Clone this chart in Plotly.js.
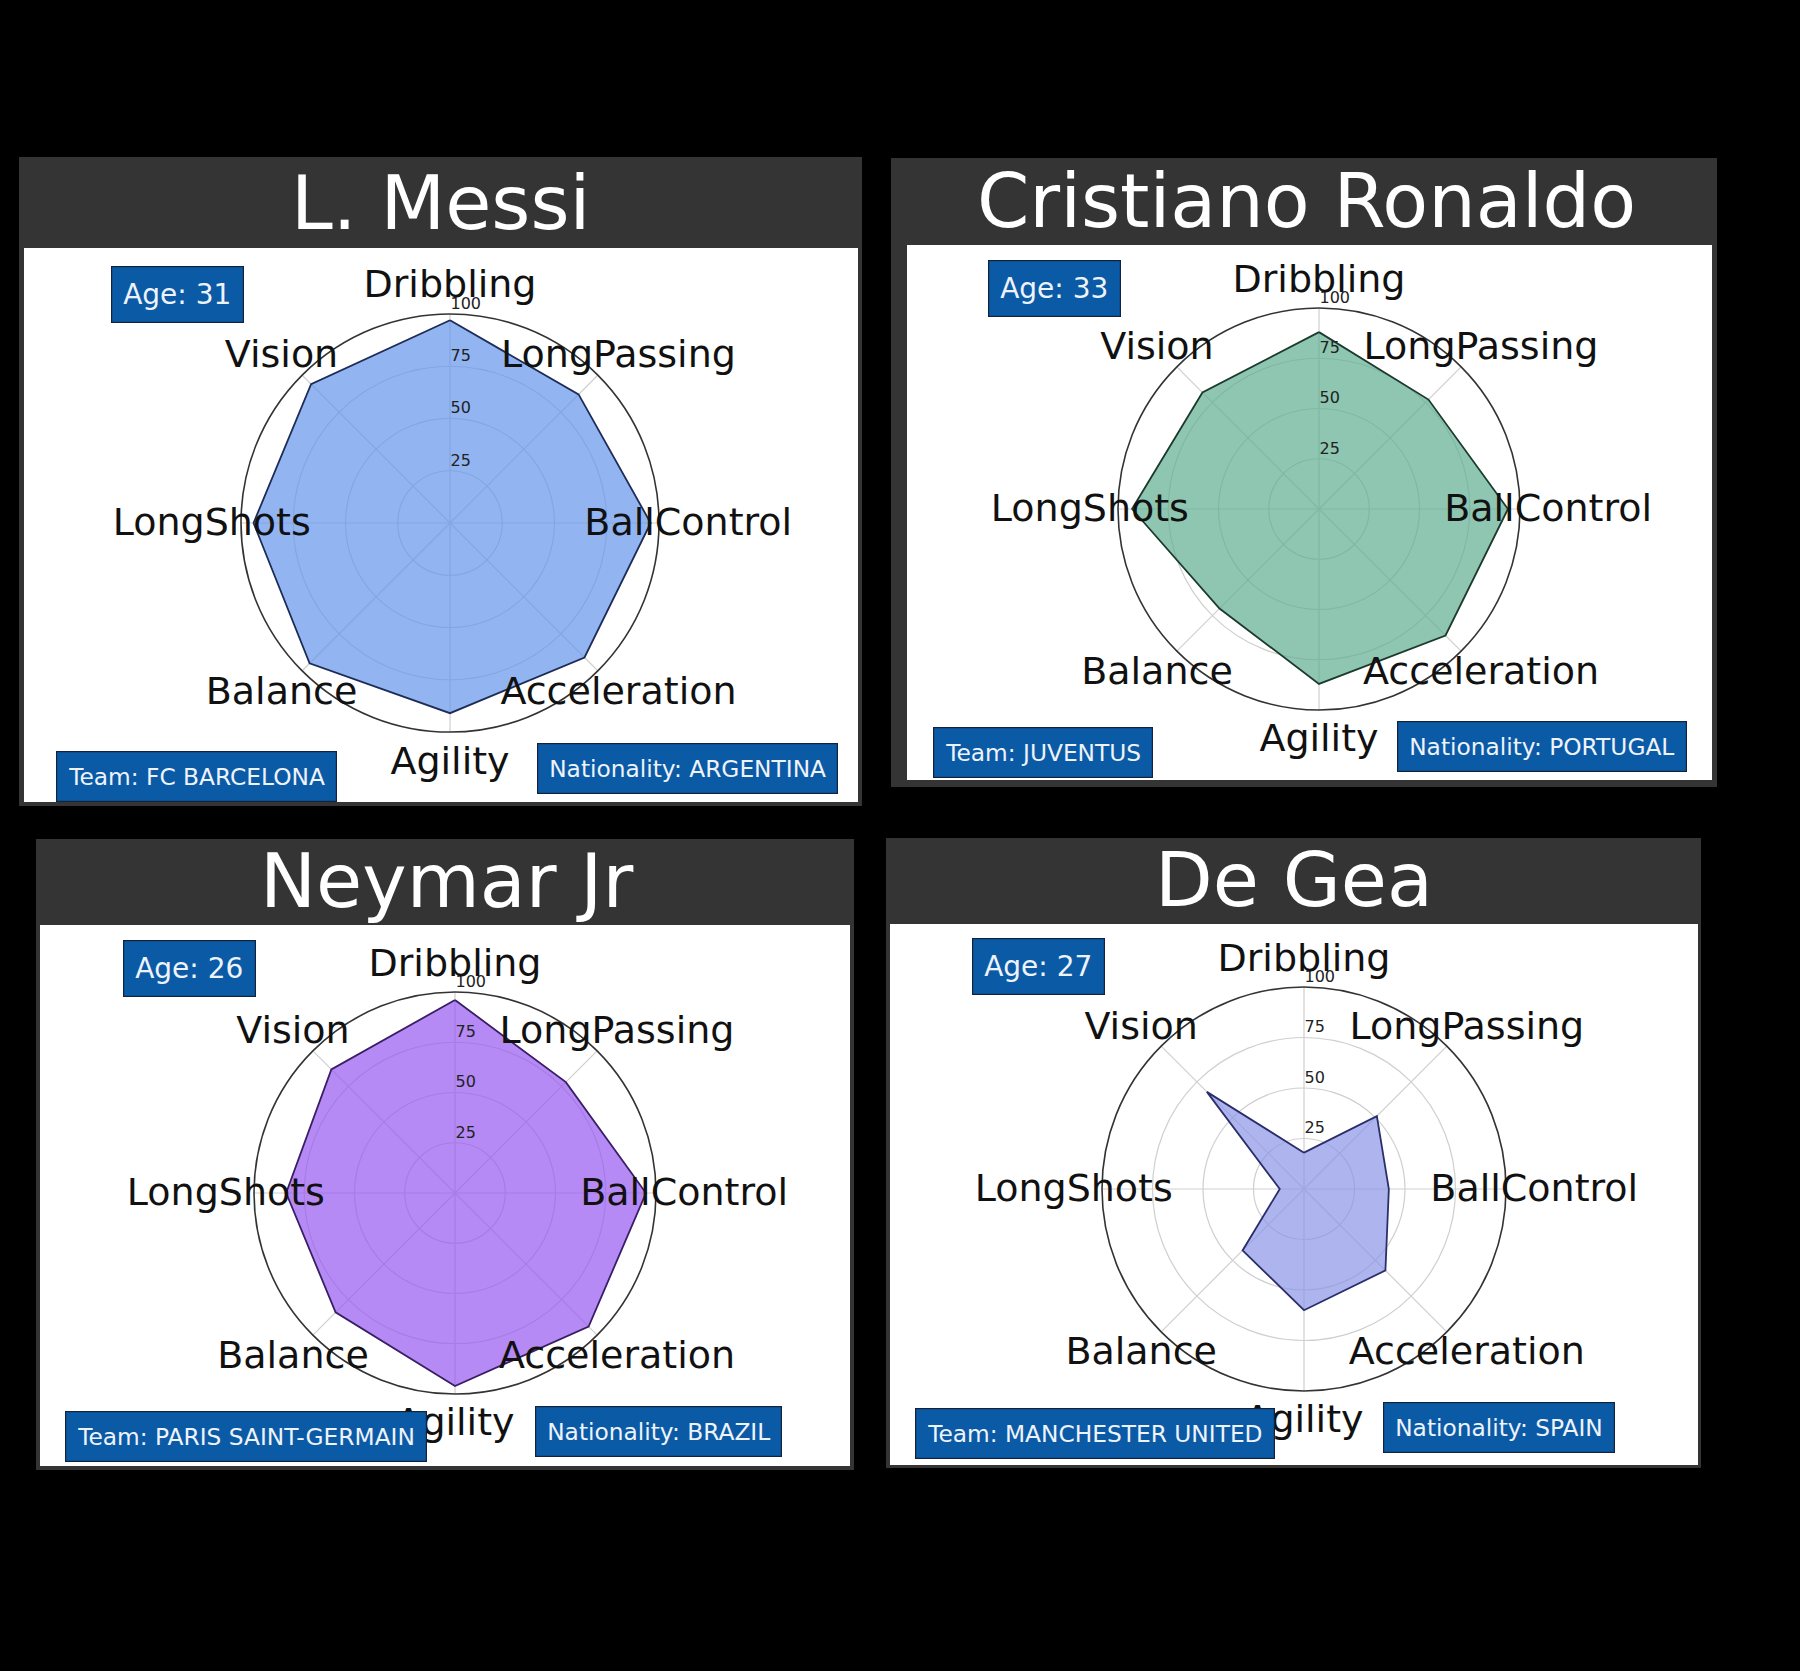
<!DOCTYPE html>
<html>
<head>
<meta charset="utf-8">
<script src="https://cdn.plot.ly/plotly-3.0.1.min.js"></script>
<style>
  html, body { margin: 0; padding: 0; background: #000; }
  #chart { width: 1800px; height: 1671px; }
</style>
</head>
<body>
<div id="chart"></div>
<script>
// ---- data ----
const categories = ['Dribbling', 'LongPassing', 'BallControl', 'Acceleration', 'Agility', 'Balance', 'LongShots', 'Vision'];
const playerNames = ['L. Messi', 'Cristiano Ronaldo', 'Neymar Jr', 'De Gea'];
const playerAges = [31, 33, 26, 27];
const playerTeams = ['FC BARCELONA', 'JUVENTUS', 'PARIS SAINT-GERMAIN', 'MANCHESTER UNITED'];
const playerNationalities = ['ARGENTINA', 'PORTUGAL', 'BRAZIL', 'SPAIN'];
const messiValues   = [97, 87, 96, 91, 91, 95, 94, 94];
const ronaldoValues = [88, 77, 94, 89, 87, 70, 93, 82];
const neymarValues  = [96, 78, 95, 94, 96, 84, 84, 87];
const degeaValues   = [18, 51, 42, 57, 60, 43, 12, 68];
const radialTicks = [25, 50, 75, 100];

const playerValues = [messiValues, ronaldoValues, neymarValues, degeaValues];

// ---- styling / layout (pixel geometry of the page) ----
const W = 1800, H = 1671;
const px = v => v / W;
const py = v => 1 - v / H;

const fillColors = ['rgba(100,149,237,0.7)', 'rgba(94,174,144,0.7)', 'rgba(150,88,241,0.7)', 'rgba(139,148,229,0.7)'];
const lineColors = ['#1e2c58', '#1d3a2f', '#3a1f66', '#2a2f6a'];

const panels = [
  { outer: [19, 157, 862, 806],   inner: [24, 248, 858, 802],   title: [440, 203],  c: [450, 523],  r: 209,
    age: [177, 294], team: [196, 776], nat: [687, 768.5] },
  { outer: [891, 158, 1717, 787], inner: [907, 245, 1712, 780], title: [1306, 201], c: [1319, 509], r: 201,
    age: [1054.5, 288], team: [1043, 752.5], nat: [1542, 746] },
  { outer: [36, 839, 854, 1470],  inner: [40, 925, 850, 1466],  title: [446, 881],  c: [455, 1193], r: 201,
    age: [189.5, 968.5], team: [246, 1436.5], nat: [658, 1431] },
  { outer: [886, 838, 1701, 1468], inner: [890, 924, 1698, 1465], title: [1294, 880], c: [1304, 1189], r: 202,
    age: [1038, 966.5], team: [1094.5, 1433.5], nat: [1499, 1427] }
];
const labelRadiusFactor = 1.14;
const labelDropPx = 3;

const FONT = 'DejaVu Sans, Liberation Sans, sans-serif';

const traces = [];
const layout = {
  width: W, height: H,
  margin: { l: 0, r: 0, t: 0, b: 0 },
  paper_bgcolor: '#000000',
  plot_bgcolor: '#000000',
  showlegend: false,
  shapes: [],
  annotations: []
};

const domainFor = (c, r) => ({
  x: [px(c[0] - r), px(c[0] + r)],
  y: [py(c[1] + r), py(c[1] - r)]
});

panels.forEach((p, i) => {
  const sub = i === 0 ? 'polar' : 'polar' + (i + 1);
  const labelSub = 'polar' + (i + 5);

  // closed polygon
  const vals = playerValues[i];
  traces.push({
    type: 'scatterpolar',
    subplot: sub,
    mode: 'lines',
    r: vals.concat([vals[0]]),
    theta: categories.concat([categories[0]]),
    fill: 'toself',
    fillcolor: fillColors[i],
    line: { color: lineColors[i], width: 1.8 },
    hoverinfo: 'skip'
  });
  // category labels, on an overlaid (invisible) polar whose outer edge is the label circle
  traces.push({
    type: 'scatterpolar',
    subplot: labelSub,
    mode: 'text',
    r: categories.map(() => 100),
    theta: categories,
    text: categories,
    textposition: 'middle center',
    textfont: { family: FONT, size: 38, color: '#111111' },
    cliponaxis: false,
    hoverinfo: 'skip'
  });

  layout[sub] = {
    domain: domainFor(p.c, p.r),
    bgcolor: '#ffffff',
    angularaxis: {
      type: 'category',
      categoryarray: categories,
      direction: 'clockwise',
      rotation: 90,
      showticklabels: false,
      ticks: '',
      showline: true,
      linecolor: '#333333',
      linewidth: 1.6,
      showgrid: true,
      gridcolor: '#cfcfcf',
      gridwidth: 1.2
    },
    radialaxis: {
      range: [0, 100],
      angle: 90,
      tickangle: 90,
      tickvals: radialTicks,
      ticktext: radialTicks.map(v => v + '<br>&nbsp;'),
      tickfont: { family: FONT, size: 16, color: '#222222' },
      showline: false,
      ticks: '',
      showgrid: true,
      gridcolor: '#cfcfcf',
      gridwidth: 1.2,
      side: 'clockwise'
    }
  };

  layout[labelSub] = {
    domain: domainFor([p.c[0], p.c[1] + labelDropPx], p.r * labelRadiusFactor),
    bgcolor: 'rgba(0,0,0,0)',
    angularaxis: {
      type: 'category',
      categoryarray: categories,
      direction: 'clockwise',
      rotation: 90,
      showticklabels: false,
      ticks: '',
      showline: false,
      showgrid: false
    },
    radialaxis: {
      range: [0, 100],
      visible: false,
      showline: false,
      showgrid: false,
      showticklabels: false,
      ticks: ''
    }
  };

  // panel backgrounds
  layout.shapes.push({
    type: 'rect', xref: 'paper', yref: 'paper', layer: 'below',
    x0: px(p.outer[0]), x1: px(p.outer[2]), y0: py(p.outer[3]), y1: py(p.outer[1]),
    fillcolor: '#343434', line: { width: 0 }
  });
  layout.shapes.push({
    type: 'rect', xref: 'paper', yref: 'paper', layer: 'below',
    x0: px(p.inner[0]), x1: px(p.inner[2]), y0: py(p.inner[3]), y1: py(p.inner[1]),
    fillcolor: '#ffffff', line: { width: 0 }
  });

  // title
  layout.annotations.push({
    xref: 'paper', yref: 'paper', x: px(p.title[0]), y: py(p.title[1]),
    xanchor: 'center', yanchor: 'middle', showarrow: false,
    text: playerNames[i],
    font: { family: FONT, size: 75, color: '#ffffff' }
  });

  const box = (pos, text, size, pad) => ({
    xref: 'paper', yref: 'paper', x: px(pos[0]), y: py(pos[1]),
    xanchor: 'center', yanchor: 'middle', showarrow: false,
    text: text,
    font: { family: FONT, size: size, color: '#eef3fa' },
    bgcolor: '#0b5aa6', bordercolor: '#14233d', borderwidth: 1.2, borderpad: pad
  });
  layout.annotations.push(box(p.age, 'Age: ' + playerAges[i], 28, 11));
  layout.annotations.push(box(p.team, 'Team: ' + playerTeams[i], 23.3, 11));
  layout.annotations.push(box(p.nat, 'Nationality: ' + playerNationalities[i], 23.3, 11));
});

Plotly.newPlot('chart', traces, layout, { displayModeBar: false, staticPlot: true });
</script>
</body>
</html>
